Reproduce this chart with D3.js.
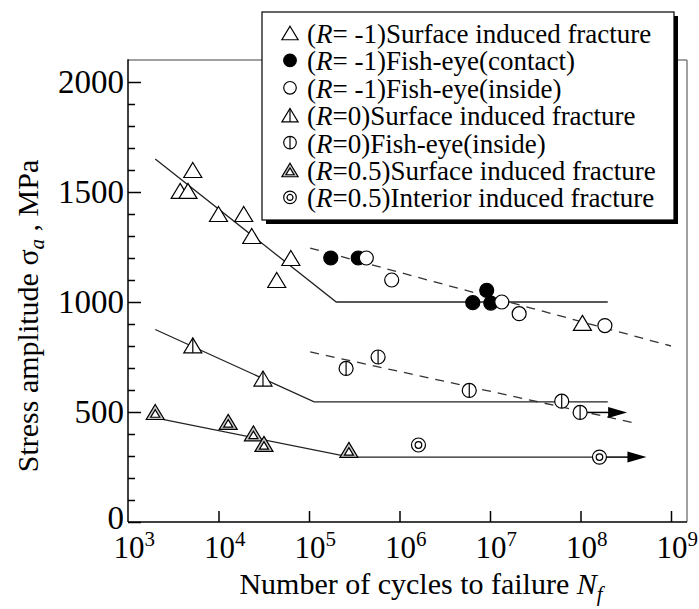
<!DOCTYPE html>
<html><head><meta charset="utf-8">
<script src="https://cdn.jsdelivr.net/npm/d3@7"></script>
<style>
html,body{margin:0;padding:0;background:#fff;}
svg{display:block;}
text{font-family:"Liberation Serif","Times New Roman",serif;fill:#000;}
</style></head><body>
<svg id="chart" width="699" height="609"></svg>
<script>
// S-N test results: [cycles to failure, stress amplitude (MPa)]
const rM1Surface     = [[3.77e3,1505],[4.6e3,1505],[5.2e3,1600],[1.0e4,1400],[1.9e4,1400],[2.33e4,1300],[4.4e4,1100],[6.3e4,1200],[1.05e8,905]];
const rM1FishContact = [[1.74e5,1200],[3.5e5,1200],[6.45e6,997],[9.2e6,1053],[1.02e7,995]];
const rM1FishInside  = [[4.3e5,1200],[8.2e5,1100],[1.35e7,1000],[2.1e7,947],[1.86e8,893]];
const r0Surface      = [[5.2e3,803],[3.1e4,652]];
const r0FishInside   = [[2.57e5,698],[5.8e5,750],[5.9e6,598],[6.2e7,549],[9.9e7,498]];
const r05Surface     = [[2e3,500],[1.28e4,455],[2.43e4,403],[3.18e4,355],[2.76e5,328]];
const r05Interior    = [[1.62e6,350],[1.62e8,295]];
// unbroken specimens (run-outs)
const runOuts        = [[9.9e7,498],[1.62e8,295]];

// fitted S-N curves
const fitM1Surface = [[2e3,1650],[2e5,1000],[2e8,1000]];
const fitM1Fish    = [[1.03e5,1245],[1e9,800]];
const fitR0Surface = [[2e3,875],[1.14e5,546],[2e8,546]];
const fitR0Fish    = [[1.03e5,773],[4.2e8,448]];
const fitR05       = [[2e3,473],[2.84e5,295],[1.62e8,295]];

const xTickExps   = [3,4,5,6,7,8,9];
const yTickLabels = [0,500,1000,1500,2000];

const legendShapes = ["tri","dot","ring","triBar","ringBar","triDouble","ringDouble"];
const legendR      = ["= -1","= -1","= -1","=0","=0","=0.5","=0.5"];
const legendDesc   = ["Surface induced fracture","Fish-eye(contact)","Fish-eye(inside)","Surface induced fracture","Fish-eye(inside)","Surface induced fracture","Interior induced fracture"];

const svg = d3.select("#chart");
const x = d3.scaleLog().domain([1e3,1e9]).range([128,671]);
const y = d3.scaleLinear().domain([0,2100]).range([522,60]);
const xRight = 687;

// plot frame
svg.append("line").attr("x1",128).attr("x2",xRight).attr("y1",y(2100)).attr("y2",y(2100)).attr("stroke","#808080").attr("stroke-width",1.5);
svg.append("line").attr("x1",xRight).attr("x2",xRight).attr("y1",y(2100)).attr("y2",y(0)).attr("stroke","#808080").attr("stroke-width",1.5);
svg.append("line").attr("x1",128).attr("x2",128).attr("y1",y(2100)-0.75).attr("y2",y(0)).attr("stroke","#000").attr("stroke-width",1.5);
svg.append("line").attr("x1",128).attr("x2",xRight).attr("y1",y(0)).attr("y2",y(0)).attr("stroke","#000").attr("stroke-width",1.5);

// y axis: ticks every 100 MPa pointing inward, labels every 500
const yAxis = d3.axisLeft(y).tickValues(d3.range(0,2001,100)).tickSizeInner(-7).tickSizeOuter(0).tickPadding(4)
  .tickFormat(d => yTickLabels.includes(d) ? d : "");
const gy = svg.append("g").attr("transform","translate(128,0)").call(yAxis);
gy.select(".domain").remove();
gy.selectAll(".tick line").attr("stroke","#000").attr("stroke-width",1.5).attr("x2", d => d % 500 === 0 ? 13 : 7);
gy.selectAll(".tick text").attr("font-family","Liberation Serif").attr("font-size",33).attr("fill","#000")
  .attr("dy", d => d === 0 ? "0.2em" : "0.32em");

// x axis: decade ticks pointing inward
const xAxis = d3.axisBottom(x).tickValues(xTickExps.slice(1).map(e => Math.pow(10,e))).tickSizeInner(-11).tickSizeOuter(0).tickFormat("");
const gx = svg.append("g").attr("transform",`translate(0,${y(0)})`).call(xAxis);
gx.select(".domain").remove();
gx.selectAll(".tick line").attr("stroke","#000").attr("stroke-width",1.5);

// decade labels 10^n
xTickExps.forEach(e => {
  const t = svg.append("text").attr("y",558).attr("font-size",31);
  t.append("tspan").text("10");
  t.append("tspan").attr("font-size",21).attr("dy",-12).text(e);
  const base = t.select("tspan").node().getComputedTextLength();
  t.attr("x", x(Math.pow(10,e)) - base/2 + 1);
});

// axis titles
const yl = svg.append("text").attr("transform","translate(38,316) rotate(-90)").attr("text-anchor","middle").attr("font-size",30);
yl.append("tspan").text("Stress amplitude ");
yl.append("tspan").text("σ");
yl.append("tspan").attr("font-style","italic").attr("font-size",21).attr("dy",6).text("a");
yl.append("tspan").attr("dy",-6).text(" , MPa");

const xl = svg.append("text").attr("x",421).attr("y",594).attr("text-anchor","middle").attr("font-size",30);
xl.append("tspan").text("Number of cycles to failure ");
xl.append("tspan").attr("font-style","italic").text("N");
xl.append("tspan").attr("font-style","italic").attr("font-size",21).attr("dy",7).text("f");

// fitted curves
const line = d3.line().x(d => x(d[0])).y(d => y(d[1]));
const curves = svg.append("g").attr("fill","none");
[fitM1Surface, fitR0Surface, fitR05].forEach(c => curves.append("path").attr("d",line(c)).attr("stroke","#222").attr("stroke-width",1.3));
[fitM1Fish, fitR0Fish].forEach(c => curves.append("path").attr("d",line(c)).attr("stroke","#333").attr("stroke-width",1.3).attr("stroke-dasharray","9,7"));

// run-out arrows
runOuts.forEach(d => {
  const px = x(d[0]), py = y(d[1]);
  svg.append("line").attr("x1",px+7).attr("x2",px+30).attr("y1",py).attr("y2",py).attr("stroke","#000").attr("stroke-width",1.5);
  svg.append("path").attr("d",`M${px+47},${py}L${px+28},${py-5.5}L${px+28},${py+5.5}Z`).attr("fill","#000");
});

// marker glyphs
const TRI = (s) => `M0,${-7.5*s}L${9*s},${7.5*s}L${-9*s},${7.5*s}Z`;
function marker(g, shape, k) {
  const s = k || 1, sw = 1.2;
  if (shape === "tri") {
    g.append("path").attr("d",TRI(s)).attr("fill","#fff").attr("stroke","#000").attr("stroke-width",sw);
  } else if (shape === "triBar") {
    g.append("path").attr("d",TRI(s)).attr("fill","#fff").attr("stroke","#000").attr("stroke-width",sw);
    g.append("line").attr("x1",0).attr("x2",0).attr("y1",-7.5*s).attr("y2",7.5*s).attr("stroke","#000").attr("stroke-width",sw);
  } else if (shape === "triDouble") {
    g.append("path").attr("d",TRI(s)).attr("fill","#c8c8c8").attr("stroke","#000").attr("stroke-width",sw);
    g.append("path").attr("d",TRI(s*0.5)).attr("transform",`translate(0,${1.5*s})`).attr("fill","#fff").attr("stroke","#000").attr("stroke-width",sw);
  } else if (shape === "dot") {
    g.append("circle").attr("r",7*s).attr("fill","#000").attr("stroke","#000").attr("stroke-width",sw);
  } else if (shape === "ring") {
    g.append("circle").attr("r",7*s).attr("fill","#fff").attr("stroke","#000").attr("stroke-width",sw);
  } else if (shape === "ringBar") {
    g.append("circle").attr("r",7*s).attr("fill","#fff").attr("stroke","#000").attr("stroke-width",sw);
    g.append("line").attr("x1",0).attr("x2",0).attr("y1",-7*s).attr("y2",7*s).attr("stroke","#000").attr("stroke-width",sw);
  } else if (shape === "ringDouble") {
    g.append("circle").attr("r",7*s).attr("fill","#fff").attr("stroke","#000").attr("stroke-width",sw);
    g.append("circle").attr("r",3.3*s).attr("fill","#fff").attr("stroke","#000").attr("stroke-width",sw);
  }
}

const series = [
  [r05Surface,"triDouble"],[r05Interior,"ringDouble"],
  [r0Surface,"triBar"],[r0FishInside,"ringBar"],
  [rM1Surface,"tri"],[rM1FishContact,"dot"],[rM1FishInside,"ring"]
];
series.forEach(([data, shape]) => {
  svg.append("g").selectAll("g").data(data).join("g")
    .attr("transform", d => `translate(${x(d[0])},${y(d[1])})`)
    .each(function(){ marker(d3.select(this), shape, 1); });
});

// legend box with drop shadow
const lg = svg.append("g");
lg.append("rect").attr("x",266).attr("y",16).attr("width",412).attr("height",208).attr("fill","#000");
lg.append("rect").attr("x",262).attr("y",12).attr("width",412).attr("height",208).attr("fill","#fff").attr("stroke","#000").attr("stroke-width",1.2);
legendShapes.forEach((shape, i) => {
  const cy = 33 + 27.4*i;
  marker(lg.append("g").attr("transform",`translate(290,${cy})`), shape, 0.9);
  const t = lg.append("text").attr("x",307).attr("y",cy+10).attr("font-size",27);
  t.append("tspan").text("(");
  t.append("tspan").attr("font-style","italic").text("R");
  t.append("tspan").text(legendR[i] + ")" + legendDesc[i]);
});
</script>
</body></html>
